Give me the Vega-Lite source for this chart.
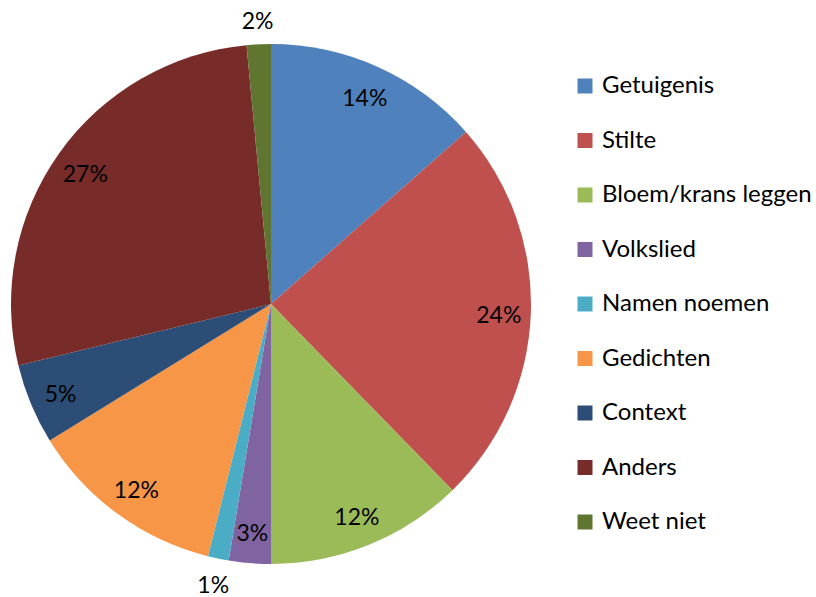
{
  "$schema": "https://vega.github.io/schema/vega-lite/v6.json",
  "width": 542,
  "height": 598,
  "padding": {"top": 5, "left": 0, "right": 0, "bottom": 0},
  "autosize": {"type": "pad"},
  "background": "white",
  "config": {"view": {"stroke": null}, "font": "Lato"},
  "data": {
    "values": [
      {"cat": "Getuigenis", "value": 13.5, "label": "14%", "order": 1, "pos": "in"},
      {"cat": "Stilte", "value": 24.2, "label": "24%", "order": 2, "pos": "in"},
      {"cat": "Bloem/krans leggen", "value": 12.3, "label": "12%", "order": 3, "pos": "in"},
      {"cat": "Volkslied", "value": 2.6, "label": "3%", "order": 4, "pos": "in"},
      {"cat": "Namen noemen", "value": 1.3, "label": "1%", "order": 5, "pos": "out"},
      {"cat": "Gedichten", "value": 12.3, "label": "12%", "order": 6, "pos": "in"},
      {"cat": "Context", "value": 5.0, "label": "5%", "order": 7, "pos": "in"},
      {"cat": "Anders", "value": 27.3, "label": "27%", "order": 8, "pos": "in"},
      {"cat": "Weet niet", "value": 1.5, "label": "2%", "order": 9, "pos": "out"}
    ]
  },
  "encoding": {
    "theta": {"field": "value", "type": "quantitative", "stack": true},
    "order": {"field": "order", "type": "quantitative"},
    "color": {
      "field": "cat",
      "type": "nominal",
      "sort": ["Getuigenis", "Stilte", "Bloem/krans leggen", "Volkslied", "Namen noemen", "Gedichten", "Context", "Anders", "Weet niet"],
      "scale": {
        "domain": ["Getuigenis", "Stilte", "Bloem/krans leggen", "Volkslied", "Namen noemen", "Gedichten", "Context", "Anders", "Weet niet"],
        "range": ["#4F81BD", "#C0504D", "#9BBB59", "#8064A2", "#4BACC6", "#F79646", "#2C4D75", "#772C2A", "#5F7530"]
      },
      "legend": {
        "title": null,
        "orient": "none",
        "legendX": 573,
        "legendY": 69,
        "symbolType": "square",
        "symbolSize": 225,
        "symbolStrokeWidth": 0,
        "symbolOpacity": 1,
        "labelFontSize": 24,
        "labelFont": "Lato",
        "labelColor": "#000000",
        "labelOffset": 5,
        "rowPadding": 30.5,
        "labelLimit": 400
      }
    }
  },
  "layer": [
    {"mark": {"type": "arc", "outerRadius": 260, "stroke": null}},
    {
      "mark": {"type": "text", "radius": 228, "dy": 3, "fontSize": 23, "font": "Lato", "color": "#000000", "baseline": "middle", "align": "center"},
      "encoding": {
        "text": {"condition": {"test": "datum.pos == 'in'", "field": "label"}, "value": ""},
        "color": {"value": "#000000"}
      }
    },
    {
      "mark": {"type": "text", "radius": 285, "dy": 3, "fontSize": 23, "font": "Lato", "color": "#000000", "baseline": "middle", "align": "center"},
      "encoding": {
        "text": {"condition": {"test": "datum.pos == 'out'", "field": "label"}, "value": ""},
        "color": {"value": "#000000"}
      }
    }
  ]
}
